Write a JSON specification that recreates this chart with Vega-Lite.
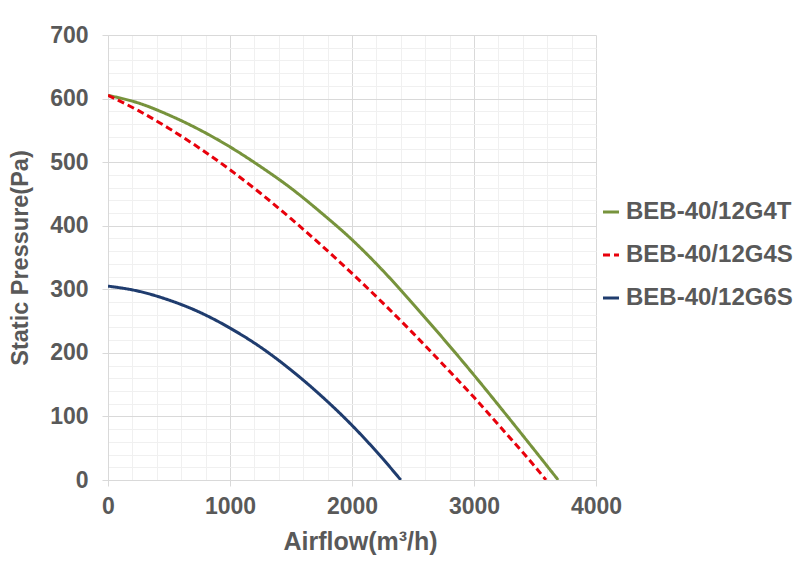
{
  "$schema": "https://vega.github.io/schema/vega-lite/v6.json",
  "width": 488,
  "height": 445,
  "autosize": {"type": "none"},
  "padding": {"left": 108, "top": 35, "right": 204, "bottom": 82},
  "background": "white",
  "config": {
    "view": {"stroke": null},
    "font": "Liberation Sans"
  },
  "data": {
    "values": [
      {"model": "BEB-40/12G4T", "airflow": 0, "pressure": 605},
      {"model": "BEB-40/12G4T", "airflow": 250, "pressure": 593},
      {"model": "BEB-40/12G4T", "airflow": 500, "pressure": 574},
      {"model": "BEB-40/12G4T", "airflow": 750, "pressure": 551},
      {"model": "BEB-40/12G4T", "airflow": 1000, "pressure": 524},
      {"model": "BEB-40/12G4T", "airflow": 1250, "pressure": 493},
      {"model": "BEB-40/12G4T", "airflow": 1500, "pressure": 459},
      {"model": "BEB-40/12G4T", "airflow": 1750, "pressure": 420},
      {"model": "BEB-40/12G4T", "airflow": 2000, "pressure": 378},
      {"model": "BEB-40/12G4T", "airflow": 2250, "pressure": 330},
      {"model": "BEB-40/12G4T", "airflow": 2500, "pressure": 277},
      {"model": "BEB-40/12G4T", "airflow": 2750, "pressure": 222},
      {"model": "BEB-40/12G4T", "airflow": 3000, "pressure": 165},
      {"model": "BEB-40/12G4T", "airflow": 3250, "pressure": 106},
      {"model": "BEB-40/12G4T", "airflow": 3500, "pressure": 46},
      {"model": "BEB-40/12G4T", "airflow": 3690, "pressure": 0},
      {"model": "BEB-40/12G4S", "airflow": 0, "pressure": 605},
      {"model": "BEB-40/12G4S", "airflow": 250, "pressure": 581},
      {"model": "BEB-40/12G4S", "airflow": 500, "pressure": 553},
      {"model": "BEB-40/12G4S", "airflow": 750, "pressure": 522},
      {"model": "BEB-40/12G4S", "airflow": 1000, "pressure": 488},
      {"model": "BEB-40/12G4S", "airflow": 1250, "pressure": 451},
      {"model": "BEB-40/12G4S", "airflow": 1500, "pressure": 411},
      {"model": "BEB-40/12G4S", "airflow": 1750, "pressure": 369},
      {"model": "BEB-40/12G4S", "airflow": 2000, "pressure": 325},
      {"model": "BEB-40/12G4S", "airflow": 2250, "pressure": 279},
      {"model": "BEB-40/12G4S", "airflow": 2500, "pressure": 231},
      {"model": "BEB-40/12G4S", "airflow": 2750, "pressure": 181},
      {"model": "BEB-40/12G4S", "airflow": 3000, "pressure": 130},
      {"model": "BEB-40/12G4S", "airflow": 3250, "pressure": 76},
      {"model": "BEB-40/12G4S", "airflow": 3500, "pressure": 21},
      {"model": "BEB-40/12G4S", "airflow": 3590, "pressure": 0},
      {"model": "BEB-40/12G6S", "airflow": 0, "pressure": 305},
      {"model": "BEB-40/12G6S", "airflow": 250, "pressure": 297},
      {"model": "BEB-40/12G6S", "airflow": 500, "pressure": 283},
      {"model": "BEB-40/12G6S", "airflow": 750, "pressure": 264},
      {"model": "BEB-40/12G6S", "airflow": 1000, "pressure": 239},
      {"model": "BEB-40/12G6S", "airflow": 1250, "pressure": 209},
      {"model": "BEB-40/12G6S", "airflow": 1500, "pressure": 173},
      {"model": "BEB-40/12G6S", "airflow": 1750, "pressure": 132},
      {"model": "BEB-40/12G6S", "airflow": 2000, "pressure": 86},
      {"model": "BEB-40/12G6S", "airflow": 2250, "pressure": 34},
      {"model": "BEB-40/12G6S", "airflow": 2400, "pressure": 0}
    ]
  },
  "mark": {"type": "line", "strokeWidth": 3, "interpolate": "monotone", "clip": true},
  "encoding": {
    "x": {
      "field": "airflow",
      "type": "quantitative",
      "scale": {"domain": [0, 4000], "nice": false},
      "axis": {
        "title": "Airflow(m³/h)",
        "values": [0,200,400,600,800,1000,1200,1400,1600,1800,2000,2200,2400,2600,2800,3000,3200,3400,3600,3800,4000],
        "labelExpr": "datum.value % 1000 === 0 ? datum.label : ''",
        "format": "d",
        "grid": true,
        "gridColor": {"condition": {"test": "datum.value % 1000 === 0", "value": "#d9d9d9"}, "value": "#f0f0f0"},
        "gridWidth": 1,
        "tickOpacity": {"condition": {"test": "datum.value % 1000 === 0", "value": 1}, "value": 0},
        "tickColor": "#d9d9d9",
        "tickSize": 6,
        "domainColor": "#d9d9d9",
        "domainWidth": 1,
        "labelFont": "Liberation Sans",
        "labelFontSize": 23,
        "labelFontWeight": "bold",
        "labelColor": "#595959",
        "labelPadding": 9,
        "labelFlush": false,
        "labelOverlap": false,
        "titleFont": "Liberation Sans",
        "titleFontSize": 25,
        "titleFontWeight": "bold",
        "titleColor": "#595959",
        "titlePadding": 11,
        "titleX": 252
      }
    },
    "y": {
      "field": "pressure",
      "type": "quantitative",
      "scale": {"domain": [0, 700], "nice": false},
      "axis": {
        "title": "Static Pressure(Pa)",
        "values": [0,20,40,60,80,100,120,140,160,180,200,220,240,260,280,300,320,340,360,380,400,420,440,460,480,500,520,540,560,580,600,620,640,660,680,700],
        "labelExpr": "datum.value % 100 === 0 ? datum.label : ''",
        "grid": true,
        "gridColor": {"condition": {"test": "datum.value % 100 === 0", "value": "#d9d9d9"}, "value": "#f0f0f0"},
        "gridWidth": 1,
        "tickOpacity": {"condition": {"test": "datum.value % 100 === 0", "value": 1}, "value": 0},
        "tickColor": "#d9d9d9",
        "tickSize": 6,
        "domainColor": "#d9d9d9",
        "labelFont": "Liberation Sans",
        "labelFontSize": 23,
        "labelFontWeight": "bold",
        "labelColor": "#595959",
        "labelPadding": 14,
        "labelFlush": false,
        "labelOverlap": false,
        "titleFont": "Liberation Sans",
        "titleFontSize": 23.5,
        "titleFontWeight": "bold",
        "titleColor": "#595959",
        "titlePadding": 17
      }
    },
    "color": {
      "field": "model",
      "type": "nominal",
      "scale": {
        "domain": ["BEB-40/12G4T", "BEB-40/12G4S", "BEB-40/12G6S"],
        "range": ["#77933c", "#e8000b", "#1f3c6e"]
      },
      "legend": {
        "title": null,
        "orient": "none",
        "legendX": 491,
        "legendY": 165,
        "symbolType": "stroke",
        "symbolSize": 256,
        "symbolStrokeWidth": 3,
        "labelFont": "Liberation Sans",
        "labelFontSize": 24,
        "labelFontWeight": "bold",
        "labelColor": "#595959",
        "labelOffset": 3,
        "rowPadding": 19,
        "labelLimit": 300
      }
    },
    "strokeDash": {
      "field": "model",
      "type": "nominal",
      "scale": {
        "domain": ["BEB-40/12G4T", "BEB-40/12G4S", "BEB-40/12G6S"],
        "range": [[1, 0], [7, 4], [1, 0]]
      },
      "legend": {
        "title": null,
        "orient": "none",
        "legendX": 491,
        "legendY": 165,
        "symbolType": "stroke",
        "symbolSize": 256,
        "symbolStrokeWidth": 3,
        "labelFont": "Liberation Sans",
        "labelFontSize": 24,
        "labelFontWeight": "bold",
        "labelColor": "#595959",
        "labelOffset": 3,
        "rowPadding": 19,
        "labelLimit": 300
      }
    }
  }
}
